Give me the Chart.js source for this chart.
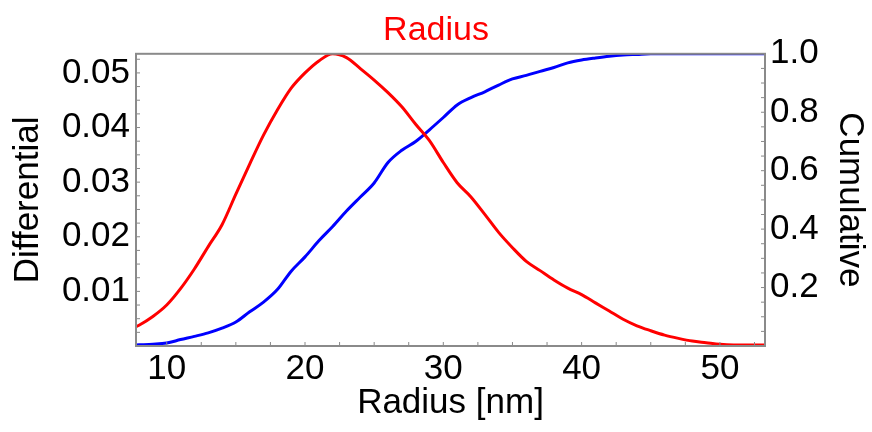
<!DOCTYPE html>
<html>
<head>
<meta charset="utf-8">
<script src="https://cdn.jsdelivr.net/npm/chart.js@4/dist/chart.umd.min.js"></script>
<style>
  html, body { margin: 0; padding: 0; background: #fff; }
</style>
</head>
<body>
<canvas id="myChart" width="872" height="432"></canvas>
<script>
// radius in nm
const radius = [7.5, 8, 9, 10, 11, 12, 13, 14, 15, 16, 17, 18, 19, 20, 21, 22, 23, 24, 25, 26, 27, 28, 29, 30,
  31, 32, 33, 34, 35, 36, 37, 38, 39, 40, 41, 42, 43, 44, 45, 46, 47, 48, 49, 50, 51, 52, 53, 54];
const differential = [0.0032, 0.0038, 0.0054, 0.0075, 0.0105, 0.0141, 0.0182, 0.0222, 0.0278, 0.0333, 0.0386, 0.0432,
  0.0472, 0.0500, 0.0522, 0.0535, 0.0528, 0.0508, 0.0487, 0.0464, 0.0438, 0.0406, 0.0376, 0.0336,
  0.0299, 0.0273, 0.0241, 0.0208, 0.0180, 0.0155, 0.0138, 0.0121, 0.0106, 0.0094, 0.0079, 0.0064,
  0.0049, 0.0037, 0.0028, 0.0020, 0.0014, 0.0009, 0.0006, 0.0003, 0.0002, 0.0002, 0.0002, 0.0002];
const cumulative = [0.003, 0.004, 0.006, 0.010, 0.022, 0.033, 0.045, 0.061, 0.082, 0.117, 0.150, 0.193,
  0.256, 0.305, 0.360, 0.409, 0.462, 0.510, 0.558, 0.628, 0.670, 0.700, 0.740, 0.782,
  0.825, 0.850, 0.870, 0.893, 0.914, 0.926, 0.940, 0.953, 0.969, 0.979, 0.986, 0.992,
  0.996, 0.998, 1.0, 1.0, 1.0, 1.0, 1.0, 1.0, 1.0, 1.0, 1.0, 1.0];

const xTicks = [10, 20, 30, 40, 50];
const leftTicks = [0.01, 0.02, 0.03, 0.04, 0.05];
const rightTicks = [0.2, 0.4, 0.6, 0.8, 1.0];

const FONT = "'Liberation Sans', Arial, Helvetica, sans-serif";

// frame + little inward tick marks
const framePlugin = {
  id: "frame",
  afterDraw(chart) {
    const { ctx, chartArea: a, scales } = chart;
    ctx.save();
    ctx.strokeStyle = "#888";
    ctx.lineWidth = 1;
    const mark = (x1, y1, x2, y2) => {
      ctx.beginPath();
      ctx.moveTo(x1, y1);
      ctx.lineTo(x2, y2);
      ctx.stroke();
    };
    for (let v = 7.5; v <= 53.5; v += 2.5) {
      const px = scales.x.getPixelForValue(v);
      if (px > a.left + 1 && px < a.right - 1) mark(px, a.bottom, px, a.bottom - 4);
    }
    for (let v = 0.0025; v < 0.0535; v += 0.0025) {
      const py = scales.y.getPixelForValue(v);
      mark(a.left, py, a.left + 4, py);
    }
    for (let v = 0.05; v < 1; v += 0.05) {
      const py = scales.y2.getPixelForValue(v);
      mark(a.right, py, a.right - 4, py);
    }
    ctx.strokeStyle = "#8a8a8a";
    ctx.lineWidth = 2;
    ctx.strokeRect(a.left, a.top, a.right - a.left, a.bottom - a.top);
    ctx.restore();
  },
};

new Chart(document.getElementById("myChart"), {
  type: "line",
  data: {
    datasets: [
      {
        label: "Differential",
        data: radius.map((r, i) => ({ x: r, y: differential[i] })),
        borderColor: "#ff0000",
        borderWidth: 3,
        pointRadius: 0,
        cubicInterpolationMode: "monotone",
        yAxisID: "y",
      },
      {
        label: "Cumulative",
        data: radius.map((r, i) => ({ x: r, y: cumulative[i] })),
        borderColor: "#0000ff",
        borderWidth: 3,
        pointRadius: 0,
        cubicInterpolationMode: "monotone",
        yAxisID: "y2",
      },
    ],
  },
  options: {
    responsive: false,
    animation: false,
    layout: { padding: 0 },
    plugins: {
      legend: { display: false },
      tooltip: { enabled: false },
      title: {
        display: true,
        text: "Radius",
        color: "#ff0000",
        font: { family: FONT, size: 34, weight: "normal", lineHeight: 1.2 },
        padding: { top: 10, bottom: 3 },
      },
    },
    scales: {
      x: {
        type: "linear",
        min: 7.78,
        max: 53.26,
        afterBuildTicks: (s) => { s.ticks = xTicks.map((v) => ({ value: v })); },
        afterFit: (s) => { s.height = 86; },
        grid: { display: false, drawTicks: false },
        border: { display: false },
        ticks: { color: "#000", padding: 2, font: { family: FONT, size: 35 } },
        title: {
          display: true,
          text: "Radius [nm]",
          color: "#000",
          font: { family: FONT, size: 35, lineHeight: 1.2 },
          padding: { top: 0, bottom: 8 },
        },
      },
      y: {
        type: "linear",
        position: "left",
        min: 0,
        max: 0.0535,
        afterBuildTicks: (s) => { s.ticks = leftTicks.map((v) => ({ value: v })); },
        afterFit: (s) => { s.width = 136; },
        grid: { display: false, drawTicks: false },
        border: { display: false },
        ticks: {
          color: "#000",
          padding: 6,
          font: { family: FONT, size: 35 },
          callback: (v) => v.toFixed(2),
        },
        title: {
          display: true,
          text: "Differential",
          color: "#000",
          font: { family: FONT, size: 35, lineHeight: 1.2 },
          padding: { top: 7, bottom: 0 },
        },
      },
      y2: {
        type: "linear",
        position: "right",
        min: 0,
        max: 1,
        afterBuildTicks: (s) => { s.ticks = rightTicks.map((v) => ({ value: v })); },
        afterFit: (s) => { s.width = 107; },
        grid: { display: false, drawTicks: false },
        border: { display: false },
        ticks: {
          color: "#000",
          padding: 5,
          font: { family: FONT, size: 35 },
          callback: (v) => v.toFixed(1),
        },
        title: {
          display: true,
          text: "Cumulative",
          color: "#000",
          font: { family: FONT, size: 35, lineHeight: 1.2 },
          padding: { top: 1, bottom: 0 },
        },
      },
    },
  },
  plugins: [framePlugin],
});
</script>
</body>
</html>
